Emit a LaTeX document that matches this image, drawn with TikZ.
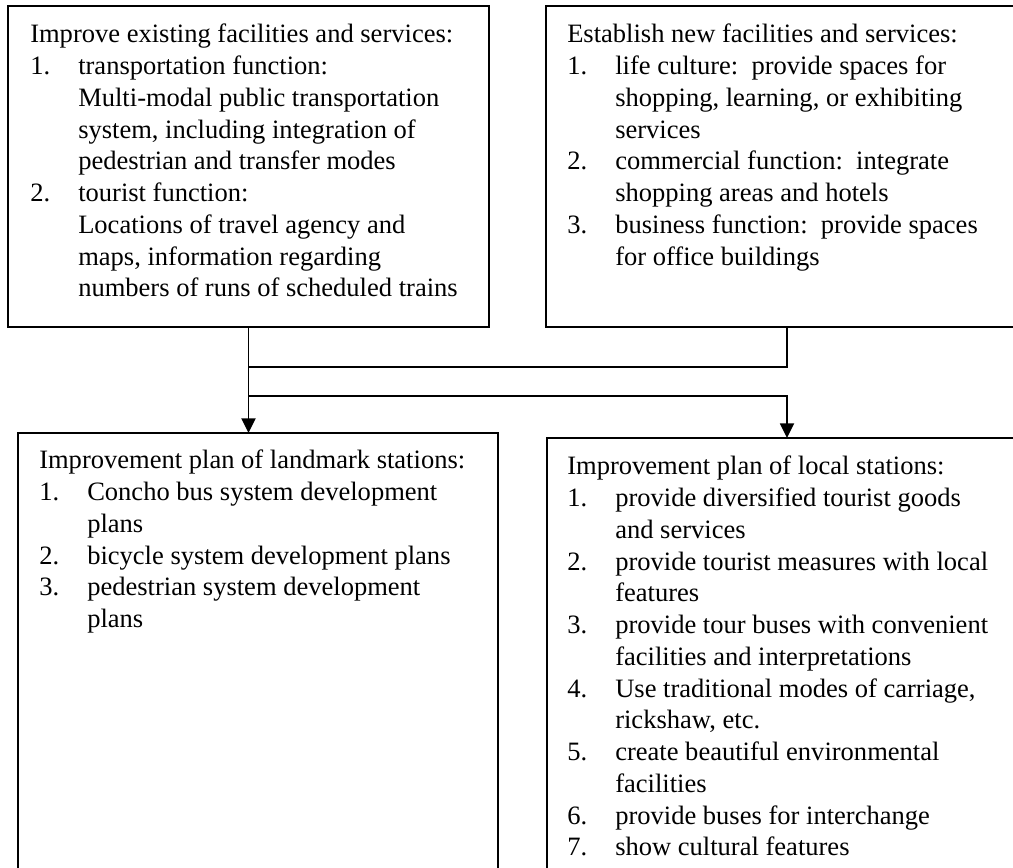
\documentclass[tikz,border=0pt]{standalone}
\usepackage{fontspec}
\setmainfont{Liberation Serif}
\usetikzlibrary{arrows.meta,positioning}

\newcommand\itemno[1]{\makebox[36pt][l]{#1}}
\newcommand\itemgo{\hspace*{36pt}}

\begin{document}
\begin{tikzpicture}[
    x=0.75pt, y=-0.75pt,
    box/.style={rectangle, draw, line width=1.4pt, inner sep=0pt, outer sep=0pt, anchor=north west},
    txt/.style={anchor=north west, inner sep=0pt, align=left, font=\fontsize{19.9pt}{23.8pt}\selectfont},
    link/.style={line width=1.4pt},
    arrow/.style={-{Triangle[width=10.5pt,length=11pt]}, line width=1.4pt}
]
    \clip (0,0) rectangle (1013,867);

    \node[box, minimum width=360.75pt, minimum height=240.75pt] (existing) at (8,6) {};
    \node[box, minimum width=361.5pt, minimum height=240.75pt] (newfac) at (546,6) {};
    \node[box, minimum width=360pt, minimum height=342.75pt] (landmark) at (18,433) {};
    \node[box, minimum width=360pt, minimum height=339pt] (local) at (547,438) {};

    \node[txt] (existing-txt) at (30,24) {Improve existing facilities and services:\\
        \itemno{1.}transportation function:\\
        \itemgo Multi-modal public transportation\\
        \itemgo system, including integration of\\
        \itemgo pedestrian and transfer modes\\
        \itemno{2.}tourist function:\\
        \itemgo Locations of travel agency and\\
        \itemgo maps, information regarding\\
        \itemgo numbers of runs of scheduled trains};
    \node[txt] (newfac-txt) at (567,24) {Establish new facilities and services:\\
        \itemno{1.}life culture:\ \ provide spaces for\\
        \itemgo shopping, learning, or exhibiting\\
        \itemgo services\\
        \itemno{2.}commercial function:\ \ integrate\\
        \itemgo shopping areas and hotels\\
        \itemno{3.}business function:\ \ provide spaces\\
        \itemgo for office buildings};
    \node[txt] (landmark-txt) at (39,450) {Improvement plan of landmark stations:\\
        \itemno{1.}Concho bus system development\\
        \itemgo plans\\
        \itemno{2.}bicycle system development plans\\
        \itemno{3.}pedestrian system development\\
        \itemgo plans};
    \node[txt] (local-txt) at (567,456) {Improvement plan of local stations:\\
        \itemno{1.}provide diversified tourist goods\\
        \itemgo and services\\
        \itemno{2.}provide tourist measures with local\\
        \itemgo features\\
        \itemno{3.}provide tour buses with convenient\\
        \itemgo facilities and interpretations\\
        \itemno{4.}Use traditional modes of carriage,\\
        \itemgo rickshaw, etc.\\
        \itemno{5.}create beautiful environmental\\
        \itemgo facilities\\
        \itemno{6.}provide buses for interchange\\
        \itemno{7.}show cultural features};

    \coordinate (join) at (existing.south |- 0,367);
    \coordinate (split) at (existing.south |- 0,396);

    \draw[arrow] (existing.south) -- (existing.south |- landmark.north);
    \draw[link] (newfac.south) |- (join);
    \draw[arrow] (split) -| (local.north);
\end{tikzpicture}
\end{document}
